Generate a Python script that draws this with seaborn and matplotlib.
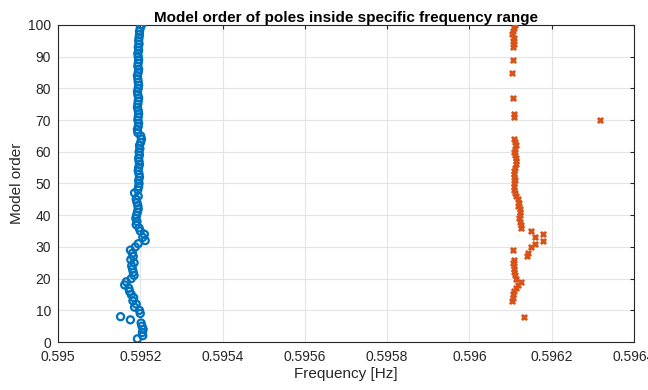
import matplotlib
matplotlib.use("Agg")
import matplotlib.pyplot as plt
import seaborn as sns
import pandas as pd
import numpy as np

# ---- data ----
blue_order = list(range(1, 101))
blue_freq = [
    0.595193, 0.595206, 0.595205, 0.595207, 0.595204, 0.595202, 0.595176, 0.595152, 0.595200, 0.595198,
    0.595186, 0.595190, 0.595182, 0.595184, 0.595178, 0.595174, 0.595172, 0.595162, 0.595166, 0.595178,
    0.595185, 0.595183, 0.595181, 0.595179, 0.595185, 0.595177, 0.595183, 0.595181, 0.595176, 0.595188,
    0.595195, 0.595212, 0.595206, 0.595210, 0.595200, 0.595197, 0.595190, 0.595192, 0.595189, 0.595191,
    0.595193, 0.595195, 0.595194, 0.595192, 0.595190, 0.595195, 0.595186, 0.595194, 0.595196, 0.595197,
    0.595196, 0.595198, 0.595197, 0.595195, 0.595196, 0.595198, 0.595197, 0.595196, 0.595198, 0.595197,
    0.595199, 0.595198, 0.595201, 0.595203, 0.595201, 0.595194, 0.595193, 0.595195, 0.595196, 0.595194,
    0.595195, 0.595196, 0.595195, 0.595193, 0.595194, 0.595195, 0.595196, 0.595194, 0.595193, 0.595195,
    0.595196, 0.595195, 0.595194, 0.595193, 0.595195, 0.595196, 0.595194, 0.595195, 0.595196, 0.595195,
    0.595194, 0.595196, 0.595195, 0.595197, 0.595196, 0.595197, 0.595198, 0.595198, 0.595200, 0.595203,
]

orange_order = [100, 99, 98, 97, 96, 95, 94, 93, 89, 85, 77, 72, 71, 70,
                64, 63, 62, 61, 60, 59, 58, 57, 56, 55, 54, 53, 52, 51, 50,
                49, 48, 47, 46, 45, 44, 43, 42, 41, 40, 39, 38, 37, 36, 35,
                34, 33, 32, 31, 30, 29, 28, 27, 26, 25, 24, 23, 22, 21, 20,
                19, 18, 17, 16, 15, 14, 13, 8]
orange_freq = [0.596110, 0.596108, 0.596106, 0.596104, 0.596107, 0.596105, 0.596108, 0.596106,
               0.596106, 0.596104, 0.596106, 0.596107, 0.596109, 0.596317,
               0.596108, 0.596110, 0.596112, 0.596110, 0.596108, 0.596110, 0.596112, 0.596114,
               0.596113, 0.596111, 0.596108, 0.596107, 0.596109, 0.596110, 0.596108,
               0.596107, 0.596109, 0.596111, 0.596114, 0.596118, 0.596121, 0.596119, 0.596122,
               0.596124, 0.596123, 0.596121, 0.596124, 0.596126, 0.596125, 0.596150,
               0.596178, 0.596160, 0.596178, 0.596160, 0.596150, 0.596106, 0.596142, 0.596139,
               0.596107, 0.596106, 0.596108, 0.596107, 0.596109, 0.596110, 0.596112,
               0.596126, 0.596118, 0.596113, 0.596108, 0.596106, 0.596105, 0.596104, 0.596132]

x_ticks = [0.595, 0.5952, 0.5954, 0.5956, 0.5958, 0.596, 0.5962, 0.5964]
x_ticklabels = ["0.595", "0.5952", "0.5954", "0.5956", "0.5958", "0.596", "0.5962", "0.5964"]
y_ticks = list(range(0, 101, 10))

sns.set_style("white")
plt.rcParams["font.family"] = ["Liberation Sans", "DejaVu Sans"]

fig = plt.figure(figsize=(6.48, 3.90), dpi=100)
ax = fig.add_axes([0.0895, 0.123, 0.889, 0.813])

df_b = pd.DataFrame({"freq": blue_freq, "order": blue_order})
df_o = pd.DataFrame({"freq": orange_freq, "order": orange_order})

sns.scatterplot(data=df_b, x="freq", y="order", ax=ax, marker="o", s=26,
                facecolors="none", edgecolor="#0072BD", linewidth=1.6, zorder=3)
sns.scatterplot(data=df_o, x="freq", y="order", ax=ax, marker="x", s=14,
                color="#D95319", linewidth=2.0, zorder=3)

ax.set_xlim(0.595, 0.5964)
ax.set_ylim(0, 100)
ax.set_xticks(x_ticks)
ax.set_xticklabels(x_ticklabels)
ax.set_yticks(y_ticks)
ax.grid(True, color="#e4e4e4", linewidth=0.8)
ax.set_axisbelow(True)
for s in ax.spines.values():
    s.set_color("#262626")
    s.set_linewidth(0.8)
ax.tick_params(direction="in", length=3, width=0.8, colors="#262626",
               labelsize=10, top=True, right=True, labelcolor="#262626")
ax.tick_params(axis="x", pad=6)
ax.tick_params(axis="y", pad=5)
ax.set_xlabel("Frequency [Hz]", fontsize=11, color="#262626", labelpad=2)
ax.set_ylabel("Model order", fontsize=11, color="#262626", labelpad=3)
ax.set_title("Model order of poles inside specific frequency range",
             fontsize=11, fontweight="bold", color="black", pad=2)

fig.savefig("out.png", dpi=100, facecolor="white")
